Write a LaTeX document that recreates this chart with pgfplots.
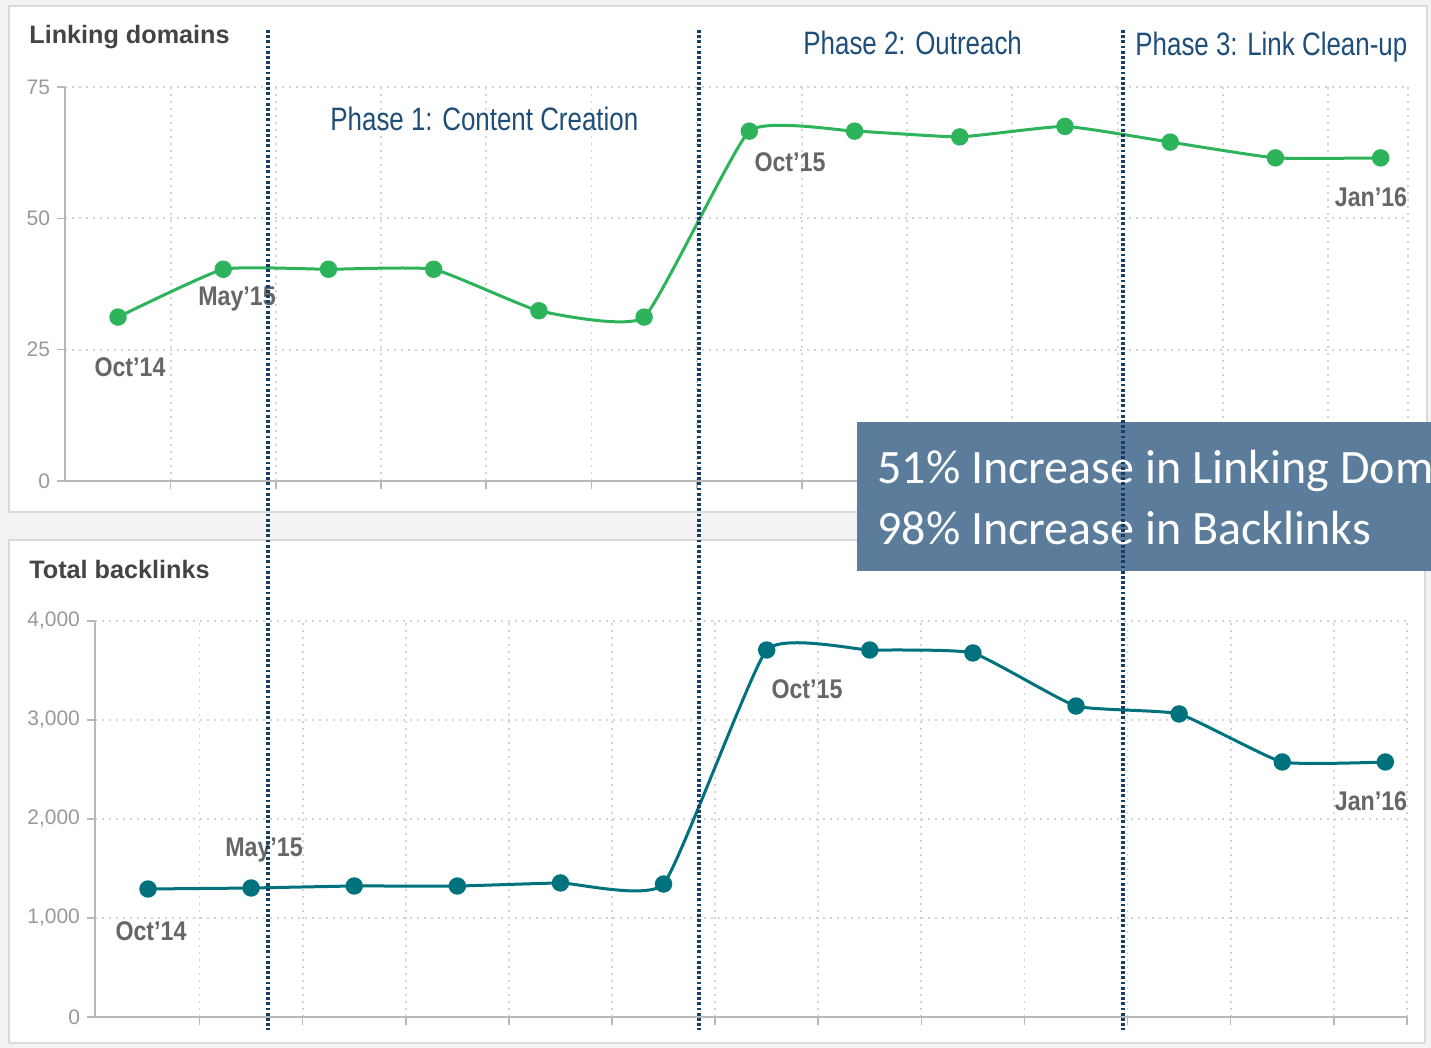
\documentclass[border=0pt]{standalone}
\usepackage{pgfplots}
\pgfplotsset{compat=1.18}
\usepackage{fontspec}
\setmainfont{Liberation Sans}
\newfontfamily\phasefont[FakeStretch=0.8]{Liberation Sans}
\newfontfamily\monthfont[FakeStretch=0.86]{Liberation Sans}
\newfontfamily\boxfont{Carlito}
\definecolor{bgc}{HTML}{F3F3F3}
\definecolor{borderc}{HTML}{DADADA}
\definecolor{ldgreen}{HTML}{2DB35A}
\definecolor{blteal}{HTML}{00727E}
\definecolor{phasec}{HTML}{1F4E79}
\definecolor{sepc}{HTML}{173F66}
\definecolor{boxc}{HTML}{5B7C9A}
\definecolor{tickc}{HTML}{999999}
\definecolor{titlec}{HTML}{444444}
\definecolor{mlabc}{HTML}{666666}
\definecolor{gridc}{HTML}{D2D2D2}
\definecolor{axc}{HTML}{B8B8B8}

\pgfplotsset{
  panelaxis/.style={
    scale only axis,
    axis lines*=left,
    axis line style={axc, line width=1pt},
    grid=major,
    major grid style={gridc, dash pattern=on 1pt off 2.5pt, line width=0.9pt},
    tick style={axc, line width=0.8pt},
    major tick length=4pt,
    tick align=outside,
    xticklabels={},
    yticklabel style={font=\fontsize{10.5}{12}\selectfont, text=tickc},
    /pgf/number format/assume math mode=true,
    /pgf/number format/1000 sep={,},
    clip=false,
  }
}

\begin{document}
\begin{tikzpicture}
\path[use as bounding box, clip] (0,0) rectangle (715.5pt,524pt);
\begin{scope}[x=0.5pt, y=-0.5pt, shift={(0,524pt)}]
  \fill[bgc] (0,0) rectangle (1431,1048);
  \draw[borderc, fill=white, line width=1pt] (9,6) rectangle (1427,512);
  \draw[borderc, fill=white, line width=1pt] (9,540) rectangle (1425,1043);
  \node[anchor=base west, text=titlec, font=\bfseries\fontsize{12.6}{14}\selectfont, inner sep=0pt] at (29,44) {Linking domains};
  \node[anchor=base west, text=titlec, font=\bfseries\fontsize{12.6}{14}\selectfont, inner sep=0pt] at (29,579) {Total backlinks};
\end{scope}

% Top axis: Linking domains
\begin{axis}[panelaxis,
  at={(32.5pt,283.5pt)}, anchor=south west,
  width=671.5pt, height=197pt,
  xmin=-0.504, xmax=12.26, ymin=0, ymax=75,
  xtick={0.5,1.5,2.5,3.5,4.5,5.5,6.5,7.5,8.5,9.5,10.5,11.5,12.26},
  ytick={0,25,50,75},
]
\addplot[ldgreen, line width=1.5pt, smooth, tension=0.25, mark=*, mark size=3.6pt,
  mark options={fill=ldgreen, draw=ldgreen, solid}] coordinates {
  (0,31.2) (1,40.3) (2,40.3) (3,40.3) (4,32.4) (5,31.2) (6,66.6)
  (7,66.6) (8,65.5) (9,67.5) (10,64.5) (11,61.5) (12,61.5)
};
\end{axis}

% Bottom axis: Total backlinks
\begin{axis}[panelaxis,
  at={(47.5pt,15.5pt)}, anchor=south west,
  width=656pt, height=198pt,
  xmin=-0.514, xmax=12.21, ymin=0, ymax=4000,
  xtick={0.5,1.5,2.5,3.5,4.5,5.5,6.5,7.5,8.5,9.5,10.5,11.5,12.21},
  ytick={0,1000,2000,3000,4000},
]
\addplot[blteal, line width=1.5pt, smooth, tension=0.25, mark=*, mark size=3.6pt,
  mark options={fill=blteal, draw=blteal, solid}] coordinates {
  (0,1293) (1,1303) (2,1323) (3,1323) (4,1354) (5,1343) (6,3707)
  (7,3707) (8,3677) (9,3141) (10,3061) (11,2576) (12,2576)
};
\end{axis}

\begin{scope}[x=0.5pt, y=-0.5pt, shift={(0,524pt)}]
  % month annotations
  \tikzset{mlab/.style={text=mlabc, font=\monthfont\bfseries\fontsize{13.5}{15}\selectfont, inner sep=0pt}}
  \node[mlab] at (130,367) {Oct’14};
  \node[mlab] at (237,299) {May’15};
  \node[mlab] at (790,162) {Oct’15};
  \node[mlab] at (1371,197) {Jan’16};
  \node[mlab] at (151,931) {Oct’14};
  \node[mlab] at (264,850) {May’15};
  \node[mlab] at (807,689) {Oct’15};
  \node[mlab] at (1371,801) {Jan’16};
  % phase labels
  \tikzset{plab/.style={text=phasec, font=\phasefont\fontsize{16.2}{18}\selectfont, inner sep=0pt, anchor=base west}}
  \node[plab] at (330,131) {Phase 1: Content Creation};
  \node[plab] at (803,55) {Phase 2: Outreach};
  \node[plab] at (1135,56) {Phase 3: Link Clean-up};
  % summary box (text cut at the right edge, as in the reference)
  \fill[boxc] (857,422) rectangle (1431,571);
  \node[anchor=base west, inner sep=0pt, text=white, font=\boxfont\fontsize{24}{27}\selectfont] at (877,484) {51\% Increase in Linking Dom};
  \node[anchor=base west, inner sep=0pt, text=white, font=\boxfont\fontsize{24}{27}\selectfont] at (877,545) {98\% Increase in Backlinks};
  % phase separators
  \foreach \xx in {268,699,1123}
    \draw[sepc, line width=1.6pt, dash pattern=on 1.4pt off 1.2pt] (\xx,30) -- (\xx,1030);
\end{scope}
\end{tikzpicture}
\end{document}
